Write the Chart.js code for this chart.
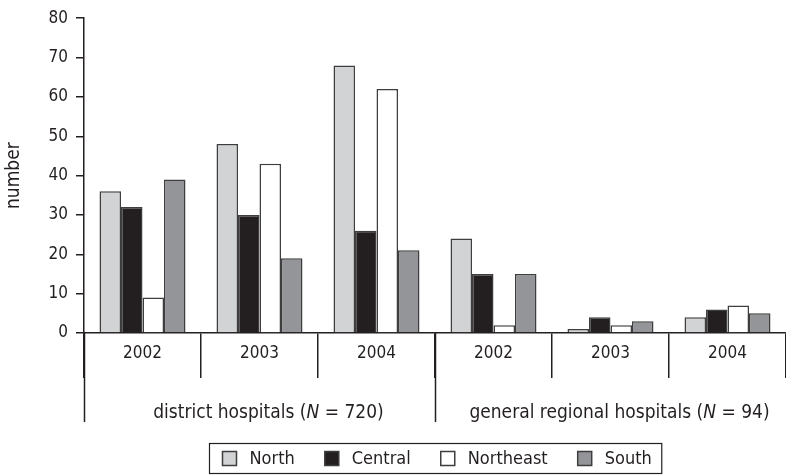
<!DOCTYPE html>
<html>
<head>
<meta charset="utf-8">
<script src="https://cdn.jsdelivr.net/npm/chart.js@4.4.0/dist/chart.umd.min.js"></script>
<style>
  html, body { margin: 0; padding: 0; background: #fff; }
</style>
</head>
<body>
<canvas id="chart" width="786" height="476"></canvas>
<script>
// chart data
const years = ["2002", "2003", "2004", "2002", "2003", "2004"];
const groupNames = ["district hospitals", "general regional hospitals"];
const groupN = ["720", "94"];
const regions = ["North", "Central", "Northeast", "South"];
const north = [36, 48, 68, 24, 1, 4];
const central = [32, 30, 26, 15, 4, 6];
const northeast = [9, 43, 62, 2, 2, 7];
const south = [39, 19, 21, 15, 3, 5];
const yMax = 80;
const yStep = 10;

const ink = "#231f20";
const edge = "#3e3e3e";
const fontFamily = "'DejaVu Sans Condensed', 'Liberation Sans Narrow', sans-serif";
const fillColors = ["#d1d3d4", "#231f20", "#ffffff", "#939598"];

// long dividers and the hospital-type labels under the years
const groupLabels = {
  id: "groupLabels",
  afterDraw(chart) {
    const ctx = chart.ctx;
    const x = chart.scales.x;
    const half = (x.getPixelForValue(1) - x.getPixelForValue(0)) / 2;
    ctx.save();
    ctx.strokeStyle = ink;
    ctx.lineWidth = 1.5;
    [0, 3].forEach(i => {
      const px = Math.round(x.getPixelForValue(i) - half) + 0.5;
      ctx.beginPath();
      ctx.moveTo(px, x.top);
      ctx.lineTo(px, x.top + 89);
      ctx.stroke();
    });
    ctx.fillStyle = ink;
    ctx.textBaseline = "middle";
    ctx.textAlign = "left";
    const y = x.top + 80;
    groupNames.forEach((name, k) => {
      const mid = (x.getPixelForValue(k * 3) + x.getPixelForValue(k * 3 + 2)) / 2 + 9;
      const parts = [
        [name + " (", "normal"],
        ["N", "italic"],
        [" = " + groupN[k] + ")", "normal"]
      ];
      let total = 0;
      parts.forEach(p => {
        ctx.font = p[1] + " 19px " + fontFamily;
        total += ctx.measureText(p[0]).width;
      });
      let cx = mid - total / 2;
      parts.forEach(p => {
        ctx.font = p[1] + " 19px " + fontFamily;
        ctx.fillText(p[0], cx, y);
        cx += ctx.measureText(p[0]).width;
      });
    });
    ctx.restore();
  }
};

// boxed legend below the axis
const boxLegend = {
  id: "boxLegend",
  afterDraw(chart) {
    const ctx = chart.ctx;
    const area = chart.chartArea;
    const box = 14, gapText = 13, gapItem = 30, padL = 13, padR = 10;
    ctx.save();
    ctx.font = "18px " + fontFamily;
    const items = chart.data.datasets.map(ds => ({
      text: ds.label, fill: ds.backgroundColor, w: ctx.measureText(ds.label).width
    }));
    let total = padL + padR;
    items.forEach((it, i) => {
      total += box + gapText + it.w + (i < items.length - 1 ? gapItem : 0);
    });
    const left = Math.round((area.left + area.right) / 2 - total / 2) + 0.5;
    const top = chart.height - 32.5;
    const h = 30;
    ctx.strokeStyle = ink;
    ctx.lineWidth = 1.2;
    ctx.strokeRect(left, top, total, h);
    let cx = left + padL;
    const cy = top + h / 2;
    items.forEach(it => {
      ctx.fillStyle = it.fill;
      ctx.fillRect(cx, cy - box / 2, box, box);
      ctx.strokeStyle = edge;
      ctx.lineWidth = 1.5;
      ctx.strokeRect(cx, cy - box / 2, box, box);
      cx += box + gapText;
      ctx.fillStyle = ink;
      ctx.textBaseline = "middle";
      ctx.fillText(it.text, cx, cy + 1);
      cx += it.w + gapItem;
    });
    ctx.restore();
  }
};

const seriesValues = [north, central, northeast, south];

new Chart(document.getElementById("chart"), {
  type: "bar",
  data: {
    labels: years,
    datasets: regions.map((name, i) => ({
      label: name,
      data: seriesValues[i],
      backgroundColor: fillColors[i],
      borderColor: edge,
      borderWidth: 1.5,
      barPercentage: 1,
      categoryPercentage: 0.735
    }))
  },
  options: {
    responsive: false,
    animation: false,
    layout: { padding: { top: 16, right: 0, bottom: 0, left: 0 } },
    plugins: {
      legend: { display: false },
      tooltip: { enabled: false }
    },
    scales: {
      x: {
        offset: true,
        grid: {
          offset: true,
          drawOnChartArea: false,
          tickLength: 45,
          color: ink,
          lineWidth: 1.5
        },
        border: { color: ink, width: 1.5 },
        ticks: {
          padding: -35,
          maxRotation: 0,
          autoSkip: false,
          color: ink,
          font: { family: fontFamily, size: 17 }
        },
        afterFit(scale) { scale.height = 143; }
      },
      y: {
        min: 0,
        max: yMax,
        ticks: {
          stepSize: yStep,
          padding: 8,
          color: ink,
          font: { family: fontFamily, size: 17 }
        },
        grid: {
          drawOnChartArea: false,
          tickLength: 8,
          color: ink,
          lineWidth: 1.5
        },
        border: { color: ink, width: 1.5 },
        title: {
          display: true,
          text: "number",
          color: ink,
          padding: { top: 3, bottom: 0 },
          font: { family: fontFamily, size: 19 }
        },
        afterFit(scale) { scale.width = 84; }
      }
    }
  },
  plugins: [groupLabels, boxLegend]
});
</script>
</body>
</html>
